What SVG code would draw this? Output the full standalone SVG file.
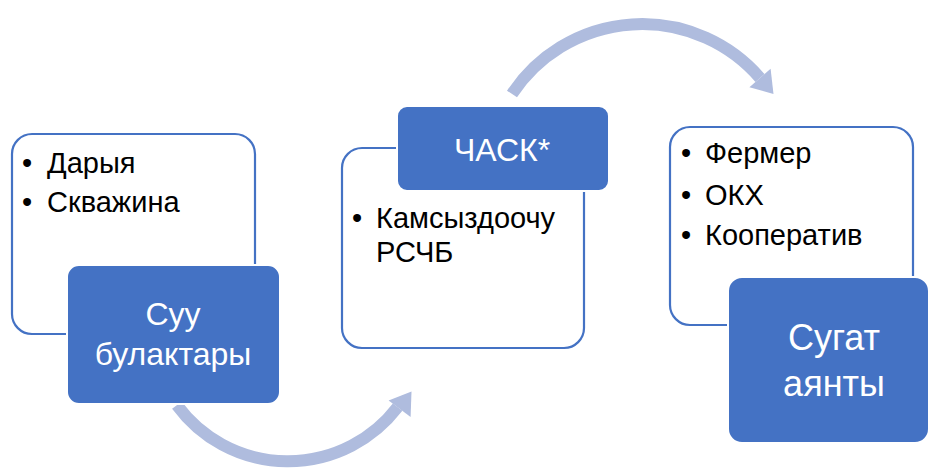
<svg xmlns="http://www.w3.org/2000/svg" width="928" height="470" viewBox="0 0 928 470">
<style>
.arc{fill:none;stroke:#AFBCDE;stroke-width:12}
.head{fill:#AFBCDE}
.card{fill:#fff;stroke:#4472C4;stroke-width:2.2}
.blue{fill:#4472C4;stroke:#fff;stroke-width:2}
.t{font-family:"Liberation Sans",Arial,sans-serif;font-size:29px;fill:#000}
.w{font-family:"Liberation Sans",Arial,sans-serif;font-size:32px;fill:#fff;text-anchor:middle}
</style>
<rect width="928" height="470" fill="#fff"/>
<g id="connectors">
<path class="arc" d="M 176.9 405.1 A 138 138 0 0 0 397.6 407.2"/>
<polygon class="head" points="388.6,400.5 410.6,417 411.5,391.5"/>
<path class="arc" d="M 512 94 A 156 156 0 0 1 760 78"/>
<polygon class="head" points="770.6,68.8 749.4,87.2 773.5,94"/>
</g>
<g id="node1">
<rect class="card" x="12" y="134" width="243" height="200" rx="20"/>
<text class="t" x="22" y="173">•</text><text class="t" x="47" y="173">Дарыя</text>
<text class="t" x="22" y="212">•</text><text class="t" x="47" y="212">Скважина</text>
<rect class="blue" x="67" y="265" width="213" height="139" rx="12"/>
<text class="w" x="173" y="325">Суу</text>
<text class="w" x="173" y="365">булактары</text>
</g>
<g id="node2">
<rect class="card" x="342" y="148" width="242" height="200" rx="20"/>
<text class="t" x="352" y="228">•</text><text class="t" x="376" y="228">Камсыздоочу</text>
<text class="t" x="376" y="262">РСЧБ</text>
<rect class="blue" x="397" y="106" width="212" height="85" rx="10"/>
<text class="w" x="502" y="161">ЧАСК*</text>
</g>
<g id="node3">
<rect class="card" x="670" y="127" width="243" height="198" rx="20"/>
<text class="t" x="681" y="163">•</text><text class="t" x="705" y="163">Фермер</text>
<text class="t" x="681" y="205">•</text><text class="t" x="705" y="205">ОКХ</text>
<text class="t" x="681" y="245">•</text><text class="t" x="705" y="245">Кооператив</text>
<rect class="blue" x="728" y="277" width="201" height="166" rx="14"/>
<text class="w" x="834" y="350" style="font-size:36px">Сугат</text>
<text class="w" x="834" y="396" style="font-size:36px">аянты</text>
</g>
</svg>
